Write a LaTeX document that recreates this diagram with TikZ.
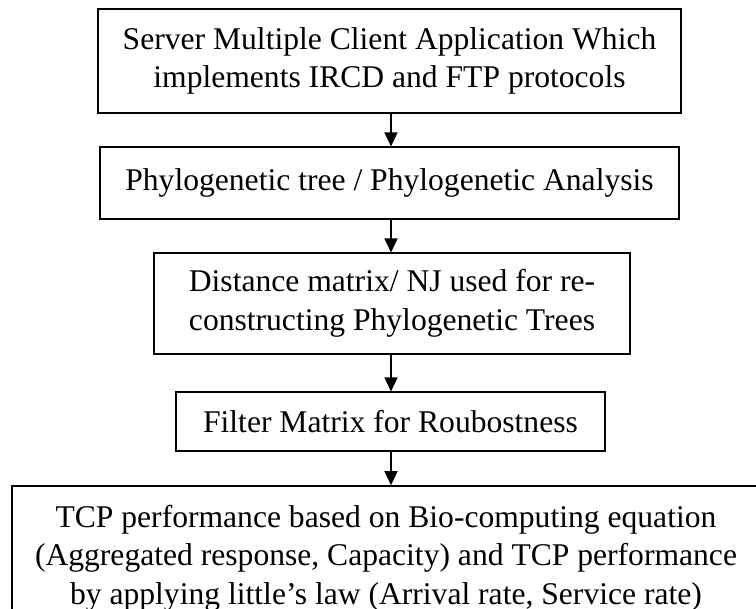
\documentclass[tikz,border=0pt]{standalone}
\usepackage{fontspec}
\setmainfont{Liberation Serif}
\usetikzlibrary{arrows.meta}
\begin{document}
\begin{tikzpicture}[x=1pt,y=-1pt,
  boxbase/.style={draw=black, align=center, inner sep=0pt, font=\fontsize{31.6}{38.5}\selectfont},
  thickbox/.style={boxbase, line width=1.6pt},
  thinbox/.style={boxbase, line width=1.1pt},
  arr/.style={line width=1.5pt, -{Triangle[length=14pt,width=13pt]}}]
\useasboundingbox (0,0) rectangle (756,609);
\clip (0,0) rectangle (756,609);
\node[thickbox, minimum width=583pt, minimum height=104pt] (b1) at (389.5,61)
  {Server Multiple Client Application Which\\implements IRCD and FTP protocols};
\node[thinbox, minimum width=579pt, minimum height=72pt] (b2) at (389.5,183)
  {Phylogenetic tree / Phylogenetic Analysis};
\node[thinbox, minimum width=476pt, minimum height=101pt] (b3) at (392,303.5)
  {Distance matrix/ NJ used for re-\\constructing Phylogenetic Trees};
\node[thinbox, minimum width=429pt, minimum height=59pt] (b4) at (390.5,421.5)
  {Filter Matrix for Roubostness};
\node[thickbox, minimum width=748pt, minimum height=144pt] (b5) at (386,558)
  {TCP performance based on Bio-computing equation\\(Aggregated response, Capacity) and TCP performance\\by applying little's law (Arrival rate, Service rate)};
\coordinate (ax) at (391,0);
\draw[arr] (b1.south -| ax) -- (b2.north -| ax);
\draw[arr] (b2.south -| ax) -- (b3.north -| ax);
\draw[arr] (b3.south -| ax) -- (b4.north -| ax);
\draw[arr] (b4.south -| ax) -- (b5.north -| ax);
\end{tikzpicture}
\end{document}
